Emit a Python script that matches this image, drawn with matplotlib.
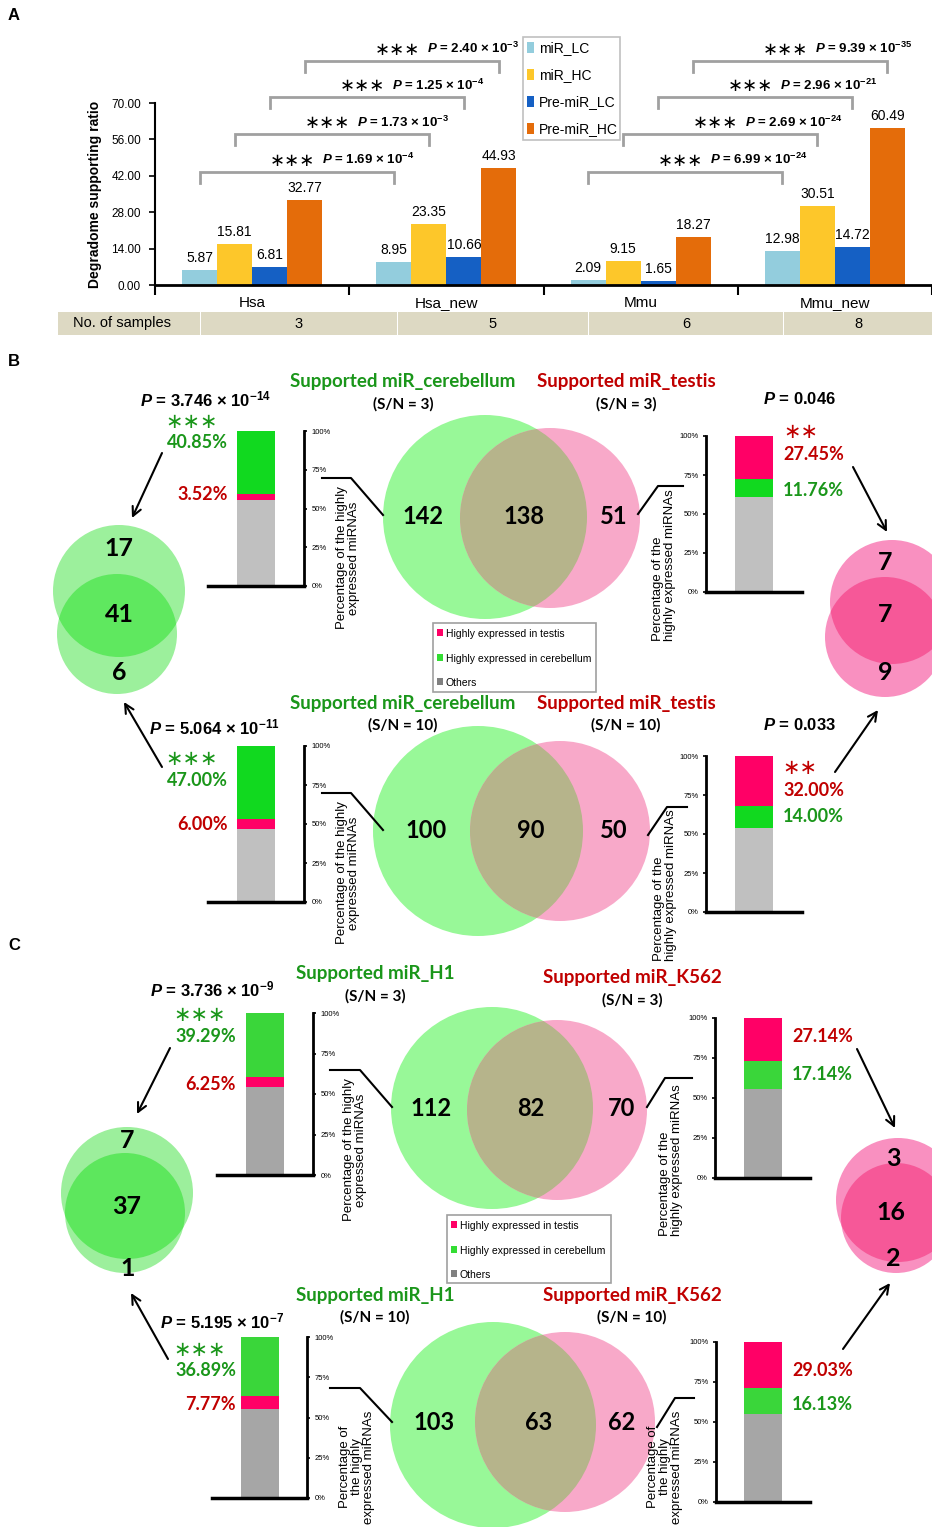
import matplotlib
matplotlib.use("Agg")
import numpy as np
import matplotlib.pyplot as plt
from matplotlib.patches import Circle, Rectangle
from matplotlib import font_manager

# ---------------------------------------------------------------- data
species = ["Hsa", "Hsa_new", "Mmu", "Mmu_new"]
series = ["miR_LC", "miR_HC", "Pre-miR_LC", "Pre-miR_HC"]
mir_lc = [5.87, 8.95, 2.09, 12.98]
mir_hc = [15.81, 23.35, 9.15, 30.51]
pre_lc = [6.81, 10.66, 1.65, 14.72]
pre_hc = [32.77, 44.93, 18.27, 60.49]
n_samples = [3, 5, 6, 8]
# (mantissa, exponent) of the Hsa vs Hsa_new and Mmu vs Mmu_new tests, per series
p_hsa = [(1.69, -4), (1.73, -3), (1.25, -4), (2.40, -3)]
p_mmu = [(6.99, -24), (2.69, -24), (2.96, -21), (9.39, -35)]

# Venn counts: (left only, shared, right only)
venn_cb_testis_3 = (142, 138, 51)
venn_cb_testis_10 = (100, 90, 50)
venn_h1_k562_3 = (112, 82, 70)
venn_h1_k562_10 = (103, 63, 62)
# small Venns: (top only, shared, bottom only)
small_cb = (17, 41, 6)
small_testis = (7, 7, 9)
small_h1 = (7, 37, 1)
small_k562 = (3, 16, 2)

# stacked bars: percentage of highly expressed in testis / in cerebellum
cb3_testis, cb3_cereb = 3.52, 40.85
te3_testis, te3_cereb = 27.45, 11.76
cb10_testis, cb10_cereb = 6.00, 47.00
te10_testis, te10_cereb = 32.00, 14.00
h1_3_testis, h1_3_cereb = 6.25, 39.29
k5_3_testis, k5_3_cereb = 27.14, 17.14
h1_10_testis, h1_10_cereb = 7.77, 36.89
k5_10_testis, k5_10_cereb = 29.03, 16.13

# ---------------------------------------------------------------- style
names = {f.name for f in font_manager.fontManager.ttflist}
ARIAL = "Liberation Sans"
NARROW = "Liberation Sans Narrow" if "Liberation Sans Narrow" in names else ARIAL
CAL = "Lato"
SYM = "DejaVu Sans"
plt.rcParams["mathtext.fontset"] = "custom"
plt.rcParams["mathtext.rm"] = "Liberation Sans:bold"
plt.rcParams["mathtext.it"] = "Liberation Sans:italic:bold"
plt.rcParams["mathtext.bf"] = "Liberation Sans:bold"

C_LC, C_HC, C_PLC, C_PHC = "#93cddd", "#fdc72a", "#1560c4", "#e46c0a"
GREEN_T, RED_T = "#1a961a", "#c00000"
PINKBAR = "#ff0066"

W, H = 932, 1527
fig = plt.figure(figsize=(W / 100, H / 100), dpi=100)


def px_axes(x0, y0, x1, y1):
    return fig.add_axes([x0 / W, 1 - y1 / H, (x1 - x0) / W, (y1 - y0) / H])


def overlay(z):
    a = fig.add_axes([0, 0, 1, 1], zorder=z)
    a.set_xlim(0, W)
    a.set_ylim(H, 0)
    a.axis("off")
    a.patch.set_alpha(0)
    return a


ov = overlay(0)
top = overlay(10)


def ptext(m, e):
    if e is None:
        return f"$P$ = {m}"
    return f"$P$ = {m} × 10$^{{{e}}}$"


# ---------------------------------------------------------------- panel A
ov.text(8, 16, "A", fontsize=12, weight="bold", family=ARIAL, va="center")
ov.text(8, 362, "B", fontsize=12, weight="bold", family=ARIAL, va="center")
ov.text(8, 946, "C", fontsize=12, weight="bold", family=ARIAL, va="center")

axA = px_axes(155, 103, 932, 285)
axA.set_facecolor("none")
x = np.arange(len(species))
offs = [-0.27, -0.09, 0.09, 0.27]
for vals, col, off in zip([mir_lc, mir_hc, pre_lc, pre_hc], [C_LC, C_HC, C_PLC, C_PHC], offs):
    axA.bar(x + off, vals, width=0.18, color=col)
    for xi, v in zip(x + off, vals):
        axA.annotate(f"{v:.2f}", (xi, v), xytext=(0, 5), textcoords="offset pixels",
                     ha="center", va="bottom", fontsize=10, family=NARROW)
axA.set_xlim(-0.5, 3.5)
axA.set_ylim(0, 70)
axA.set_yticks(np.arange(0, 71, 14))
axA.set_yticklabels([f"{v:.2f}" for v in np.arange(0, 71, 14)], fontsize=8.5, family=NARROW)
axA.set_xticks(x)
axA.set_xticklabels(species, fontsize=11, family=NARROW)
axA.tick_params(axis="x", length=0, pad=8)
axA.set_xticks(np.arange(-0.5, 3.6, 1), minor=True)
axA.tick_params(axis="x", which="minor", length=7, width=1.5, direction="out")
axA.tick_params(axis="y", length=4, width=1.2, pad=6)
for s in ["top", "right"]:
    axA.spines[s].set_visible(False)
axA.spines["left"].set_linewidth(1.5)
axA.spines["bottom"].set_linewidth(2)

ov.text(95, 194, "Degradome supporting ratio", rotation=90, ha="center", va="center",
        fontsize=10, weight="bold", family=ARIAL)

# significance brackets between the plain and new annotations
bracket_h = [43.5, 58.1, 72.3, 86.2]
for g0, plist in [(0, p_hsa), (2, p_mmu)]:
    for i, (m, e) in enumerate(plist):
        xa, xb = g0 + offs[i], g0 + 1 + offs[i]
        yb = bracket_h[i]
        axA.plot([xa, xa, xb, xb], [yb - 4.3, yb, yb, yb - 4.3], color="#a0a0a0", lw=2,
                 clip_on=False, solid_joinstyle="miter")
        xc = (xa + xb) / 2
        axA.annotate("∗∗∗", (xc, yb), xytext=(18, 11), textcoords="offset pixels",
                     ha="right", va="center", fontsize=13, family=SYM, annotation_clip=False)
        axA.annotate(ptext(f"{m:.2f}", e), (xc, yb), xytext=(25, 12), textcoords="offset pixels",
                     ha="left", va="center", fontsize=9.5, weight="bold", family=NARROW,
                     annotation_clip=False)

# legend of panel A
top.add_patch(Rectangle((523, 37), 97, 103, fc="white", ec="#c0c0c0", lw=1.2))
for yy, col, name in zip([48, 75, 102, 129], [C_LC, C_HC, C_PLC, C_PHC], series):
    top.add_patch(Rectangle((527, yy - 6), 7, 11, fc=col, ec="none"))
    top.text(539, yy, name, fontsize=10, family=NARROW, va="center")

# sample-number table
ov.add_patch(Rectangle((58, 312), 142, 23, fc="#ddd9c3", ec="none"))
ov.text(122, 323.5, "No. of samples", fontsize=10.5, family=NARROW, ha="center", va="center")
cells = [(201, 397), (398, 588), (589, 783), (784, 932)]
for (c0, c1), n in zip(cells, n_samples):
    ov.add_patch(Rectangle((c0, 312), c1 - c0, 23, fc="#ddd9c3", ec="none"))
    ov.text((c0 + c1) / 2, 323.5, str(n), fontsize=10.5, family=NARROW, ha="center", va="center")


# ---------------------------------------------------------------- helpers B/C
def venn(c1, c2, col1, col2, col12, counts, pos, fs=17, family=CAL):
    a = Circle(c1[:2], c1[2], fc=col1, ec="none", zorder=1)
    b = Circle(c2[:2], c2[2], fc=col2, ec="none", zorder=1)
    ov.add_patch(a)
    ov.add_patch(b)
    inter = Circle(c1[:2], c1[2], fc=col12, ec="none", zorder=2)
    ov.add_patch(inter)
    inter.set_clip_path(b)
    for n, (px, py) in zip(counts, pos):
        ov.text(px, py, str(n), fontsize=fs, weight="bold", family=family,
                ha="center", va="center", zorder=4)


def stack(box, testis, cereb, axis_side, green, grey):
    ax = px_axes(*box)
    ax.set_facecolor("none")
    others = 100 - testis - cereb
    ax.bar([0.5], [others], width=0.4, color=grey)
    if axis_side == "right":
        ax.bar([0.5], [testis], bottom=[others], width=0.4, color=PINKBAR)
        ax.bar([0.5], [cereb], bottom=[others + testis], width=0.4, color=green)
    else:
        ax.bar([0.5], [cereb], bottom=[others], width=0.4, color=green)
        ax.bar([0.5], [testis], bottom=[others + cereb], width=0.4, color=PINKBAR)
    ax.set_xlim(0, 1)
    ax.set_ylim(0, 100)
    ax.set_xticks([])
    ax.set_yticks([0, 25, 50, 75, 100])
    ax.set_yticklabels(["0%", "25%", "50%", "75%", "100%"], fontsize=5.5, family=ARIAL)
    ax.spines["top"].set_visible(False)
    other = "left" if axis_side == "right" else "right"
    ax.spines[other].set_visible(False)
    ax.spines[axis_side].set_linewidth(2)
    ax.spines["bottom"].set_linewidth(2.5)
    if axis_side == "right":
        ax.yaxis.tick_right()
    ax.tick_params(axis="y", length=2.5, width=1.2, pad=3)
    return others


def title_pair(x, y, text, color, sn):
    ov.text(x, y, text, color=color, fontsize=13.5, weight="bold", family=CAL, ha="center", va="center")
    ov.text(x, y + 22, sn, fontsize=11, weight="bold", family=CAL, ha="center", va="center")


def line(pts):
    xs, ys = zip(*pts)
    ov.plot(xs, ys, color="black", lw=1.5, zorder=3)


def arrow(p0, p1):
    ov.annotate("", xy=p1, xytext=p0,
                arrowprops=dict(arrowstyle="->", lw=1.5, color="black", mutation_scale=16,
                                shrinkA=0, shrinkB=0), zorder=3)


def ylab(x, y, text, align):
    ov.text(x, y, text, rotation=90, ha="center", va="center", multialignment=align,
            fontsize=9.5, family=ARIAL, linespacing=1.0)


def legend_box(x0, y0, x1, y1, ys, family, fs):
    top.add_patch(Rectangle((x0, y0), x1 - x0, y1 - y0, fc="white", ec="#a0a0a0", lw=1.2))
    labels = ["Highly expressed in testis", "Highly expressed in cerebellum", "Others"]
    cols = [PINKBAR, "#33dd33", "#808080"]
    for yy, lab, col in zip(ys, labels, cols):
        top.add_patch(Rectangle((x0 + 4, yy - 5), 6, 7, fc=col, ec="none"))
        top.text(x0 + 13, yy, lab, fontsize=fs, family=family, va="center")


def pct(x, y, v, color, ha):
    ov.text(x, y, f"{v:.2f}%", color=color, fontsize=13, weight="bold", family=CAL, ha=ha, va="center")


def stars(x, y, n, color):
    ov.text(x, y, "∗" * n, color=color, fontsize=15, family=SYM, ha="center", va="center")


def pval(x, y, m, e):
    ov.text(x, y, ptext(m, e), fontsize=12, weight="bold", family=ARIAL, ha="center", va="center")


# ---------------------------------------------------------------- panel B
G_B, GREY_B = "#11d91f", "#c0c0c0"
VG, VP, VO = "#98f898", "#f8a9c9", "#b6b48b"

# S/N = 3
title_pair(403, 382, "Supported miR_cerebellum", GREEN_T, "(S/N = 3)")
title_pair(626, 382, "Supported miR_testis", RED_T, "(S/N = 3)")
venn((485, 517, 102), (550, 518, 90), VG, VP, VO, venn_cb_testis_3,
     [(423, 516), (524, 516), (614, 516)])
stack((208, 431, 304, 586), cb3_testis, cb3_cereb, "right", G_B, GREY_B)
stack((706, 436, 802, 592), te3_testis, te3_cereb, "left", G_B, GREY_B)
pval(205, 399, "3.746", -14)
pval(800, 399, "0.046", None)
stars(192, 422, 3, GREEN_T)
pct(228, 443, cb3_cereb, GREEN_T, "right")
pct(228, 494, cb3_testis, RED_T, "right")
stars(801, 432, 2, RED_T)
pct(783, 454, te3_testis, RED_T, "left")
pct(783, 490, te3_cereb, GREEN_T, "left")
ylab(348, 558, "Percentage of the highly\nexpressed miRNAs", "center")
ylab(664, 565, "Percentage of the\nhighly expressed miRNAs", "left")
line([(322, 478), (351, 478), (383, 515)])
line([(638, 514), (658, 486), (683, 486)])
arrow((162, 453), (132, 518))
arrow((853, 467), (887, 532))

# S/N = 10
title_pair(403, 703, "Supported miR_cerebellum", GREEN_T, "(S/N = 10)")
title_pair(626, 703, "Supported miR_testis", RED_T, "(S/N = 10)")
venn((478, 831, 105), (560, 831, 90), VG, VP, VO, venn_cb_testis_10,
     [(426, 831), (531, 831), (614, 831)])
stack((208, 746, 304, 902), cb10_testis, cb10_cereb, "right", G_B, GREY_B)
stack((706, 756, 802, 912), te10_testis, te10_cereb, "left", G_B, GREY_B)
pval(214, 727, "5.064", -11)
pval(800, 725, "0.033", None)
stars(192, 759, 3, GREEN_T)
pct(228, 781, cb10_cereb, GREEN_T, "right")
pct(228, 825, cb10_testis, RED_T, "right")
stars(800, 768, 2, RED_T)
pct(783, 790, te10_testis, RED_T, "left")
pct(783, 817, te10_cereb, GREEN_T, "left")
ylab(348, 873, "Percentage of the highly\nexpressed miRNAs", "center")
ylab(665, 885, "Percentage of the\nhighly expressed miRNAs", "left")
line([(322, 793), (351, 793), (383, 830)])
line([(648, 835), (667, 807), (687, 807)])
arrow((162, 767), (124, 702))
arrow((835, 772), (878, 710))

legend_box(433, 623, 596, 692, [634, 659, 683], ARIAL, 7.5)

# shared sets between the two thresholds
venn((119, 591, 66), (117, 634, 60), "#9cf09c", "#9cf09c", "#5fe85f", small_cb,
     [(119, 548), (119, 614), (119, 672)], fs=18)
venn((892, 602, 62), (885, 637, 60), "#f990c0", "#f990c0", "#f65898", small_testis,
     [(885, 563), (885, 615), (885, 672)], fs=18)

# ---------------------------------------------------------------- panel C
G_C, GREY_C = "#3ad63a", "#a6a6a6"

# S/N = 3
title_pair(375, 974, "Supported miR_H1", GREEN_T, "(S/N = 3)")
title_pair(632, 978, "Supported miR_K562", RED_T, "(S/N = 3)")
venn((492, 1108, 101), (557, 1110, 90), VG, VP, VO, venn_h1_k562_3,
     [(431, 1108), (531, 1108), (622, 1108)])
stack((217, 1013, 313, 1175), h1_3_testis, h1_3_cereb, "right", G_C, GREY_C)
stack((715, 1018, 810, 1178), k5_3_testis, k5_3_cereb, "left", G_C, GREY_C)
pval(212, 989, "3.736", -9)
stars(200, 1015, 3, GREEN_T)
pct(236, 1037, h1_3_cereb, GREEN_T, "right")
pct(236, 1085, h1_3_testis, RED_T, "right")
pct(792, 1037, k5_3_testis, RED_T, "left")
pct(792, 1075, k5_3_cereb, GREEN_T, "left")
ylab(355, 1150, "Percentage of the highly\nexpressed miRNAs", "center")
ylab(671, 1160, "Percentage of the\nhighly expressed miRNAs", "left")
line([(330, 1070), (360, 1070), (392, 1107)])
line([(647, 1107), (665, 1078), (692, 1078)])
arrow((170, 1048), (137, 1114))
arrow((857, 1049), (895, 1128))

# S/N = 10
title_pair(375, 1295, "Supported miR_H1", GREEN_T, "(S/N = 10)")
title_pair(632, 1295, "Supported miR_K562", RED_T, "(S/N = 10)")
venn((493, 1425, 103), (565, 1422, 90), VG, VP, VO, venn_h1_k562_10,
     [(434, 1422), (539, 1422), (622, 1422)])
stack((212, 1337, 307, 1498), h1_10_testis, h1_10_cereb, "right", G_C, GREY_C)
stack((716, 1342, 810, 1502), k5_10_testis, k5_10_cereb, "left", G_C, GREY_C)
pval(222, 1321, "5.195", -7)
stars(200, 1350, 3, GREEN_T)
pct(236, 1370, h1_10_cereb, GREEN_T, "right")
pct(236, 1404, h1_10_testis, RED_T, "right")
pct(792, 1370, k5_10_testis, RED_T, "left")
pct(792, 1405, k5_10_cereb, GREEN_T, "left")
ylab(357, 1467, "Percentage of\nthe highly\nexpressed miRNAs", "center")
ylab(665, 1467, "Percentage of\nthe highly\nexpressed miRNAs", "center")
line([(330, 1388), (360, 1388), (392, 1422)])
line([(657, 1427), (675, 1398), (694, 1398)])
arrow((168, 1359), (131, 1293))
arrow((843, 1349), (890, 1283))

legend_box(447, 1215, 611, 1283, [1226, 1251, 1275], NARROW, 7.5)

venn((127, 1193, 66), (125, 1213, 60), "#9cef9c", "#9cef9c", "#5de75d", small_h1,
     [(127, 1140), (127, 1207), (128, 1268)], fs=18)
venn((898, 1200, 62), (896, 1218, 55), "#f990c0", "#f990c0", "#f65898", small_k562,
     [(893, 1158), (891, 1212), (893, 1258)], fs=18)

fig.savefig("out.png", dpi=100)
